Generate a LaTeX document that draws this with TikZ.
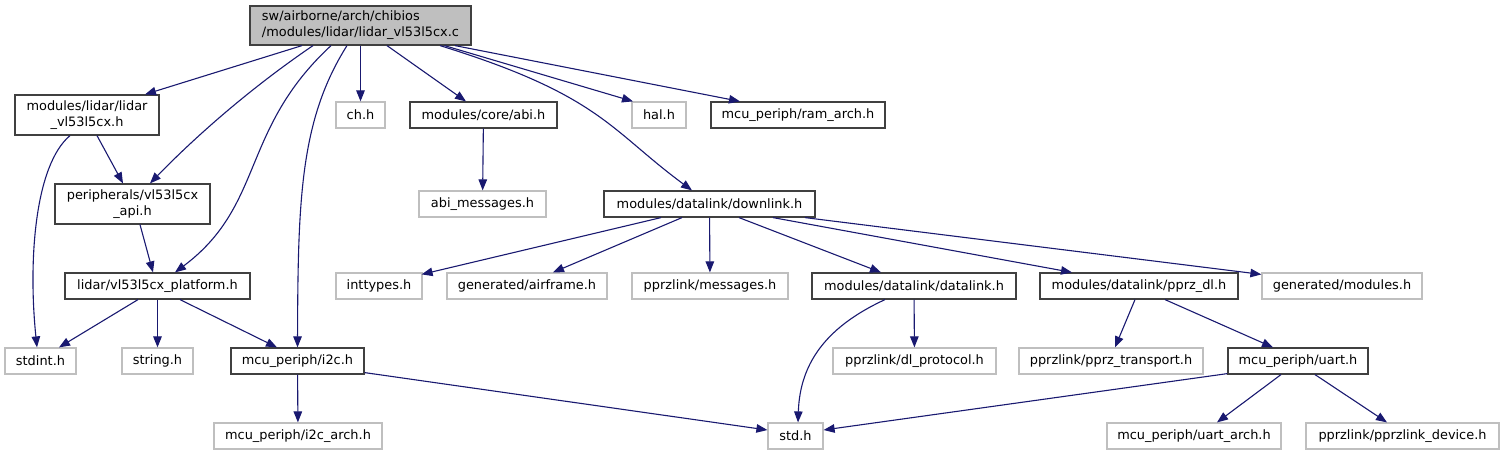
\documentclass[tikz,border=0pt]{standalone}
\usepackage{fontspec}
\setmainfont{DejaVu Sans}
\usetikzlibrary{arrows.meta}
\definecolor{edgeblue}{HTML}{191970}
\definecolor{docgray}{HTML}{404040}
\definecolor{extgray}{HTML}{BFBFBF}

\begin{document}
\begin{tikzpicture}[
        x=1pt, y=-1pt,
        base/.style={rectangle, align=center, inner sep=0pt, minimum height=26pt, line width=1.2pt, font=\fontsize{12.9}{16}\selectfont},
        box/.style={base, draw=docgray},
        ext/.style={base, draw=extgray},
        rootbox/.style={box, fill=extgray, align=left, minimum height=39pt},
        tall/.style={minimum height=40pt},
        line/.style={-{Triangle[length=11pt, width=8.5pt]}, draw=edgeblue, line width=1.1pt}
    ]
    \useasboundingbox (0,0) rectangle (1503,455);
    % top and first levels
    \node [rootbox, minimum width=221pt] (root) at (360.5,25.5) {sw/airborne/arch/chibios\\/modules/lidar/lidar\_vl53l5cx.c};
    \node [box, tall, minimum width=144pt] (lidarh) at (87,115) {modules/lidar/lidar\\\_vl53l5cx.h};
    \node [ext, minimum width=49pt] (ch) at (360.5,115) {ch.h};
    \node [box, minimum width=147pt] (abi) at (483.5,115) {modules/core/abi.h};
    \node [ext, minimum width=54pt] (hal) at (659,115) {hal.h};
    \node [box, minimum width=174pt] (ramarch) at (798,115) {mcu\_periph/ram\_arch.h};
    \node [box, tall, minimum width=155pt] (api) at (132.5,204) {peripherals/vl53l5cx\\\_api.h};
    \node [ext, minimum width=127pt] (abimsg) at (482.5,204) {abi\_messages.h};
    \node [box, minimum width=211pt] (downlink) at (709.5,204) {modules/datalink/downlink.h};
    % middle level
    \node [box, minimum width=185pt] (platform) at (157.5,286) {lidar/vl53l5cx\_platform.h};
    \node [ext, minimum width=86pt] (inttypes) at (379,286) {inttypes.h};
    \node [ext, minimum width=160pt] (airframe) at (527,286) {generated/airframe.h};
    \node [ext, minimum width=156pt] (messages) at (710,286) {pprzlink/messages.h};
    \node [box, minimum width=204pt] (datalink) at (914,286) {modules/datalink/datalink.h};
    \node [box, minimum width=198pt] (pprzdl) at (1139,286) {modules/datalink/pprz\_dl.h};
    \node [ext, minimum width=160pt] (modgen) at (1342,286) {generated/modules.h};
    % lower levels
    \node [ext, minimum width=71pt] (stdint) at (40.5,361) {stdint.h};
    \node [ext, minimum width=71pt] (string) at (157.5,361) {string.h};
    \node [box, minimum width=133pt] (i2c) at (297.5,361) {mcu\_periph/i2c.h};
    \node [ext, minimum width=163pt] (dlprot) at (914.5,361) {pprzlink/dl\_protocol.h};
    \node [ext, minimum width=184pt] (transport) at (1111,361) {pprzlink/pprz\_transport.h};
    \node [box, minimum width=140pt] (uart) at (1298,361) {mcu\_periph/uart.h};
    \node [ext, minimum width=168pt] (i2carch) at (298,436) {mcu\_periph/i2c\_arch.h};
    \node [ext, minimum width=55pt] (std) at (795.5,436) {std.h};
    \node [ext, minimum width=174pt] (uartarch) at (1194,436) {mcu\_periph/uart\_arch.h};
    \node [ext, minimum width=193pt] (device) at (1402.5,436) {pprzlink/pprzlink\_device.h};
    % edges from the source file
    \draw [line] ([xshift=-58.5pt]root.south) -- ([xshift=58pt]lidarh.north);
    \draw [line] ([xshift=-47.5pt]root.south) .. controls (255,85) and (200,132) .. ([xshift=17.5pt]api.north);
    \draw [line] ([xshift=-29.5pt]root.south) .. controls (240,130) and (265,205) .. ([xshift=17.5pt]platform.north);
    \draw [line] ([xshift=-13.5pt]root.south) .. controls (300,120) and (298,200) .. (i2c.north);
    \draw [line] (root) -- (ch);
    \draw [line] ([xshift=26.5pt]root.south) -- ([xshift=-17.5pt]abi.north);
    \draw [line] ([xshift=79.5pt]root.south) .. controls (600,95) and (610,130) .. ([xshift=-17.5pt]downlink.north);
    \draw [line] ([xshift=84pt]root.south) -- ([xshift=-26pt]hal.north);
    \draw [line] ([xshift=94.5pt]root.south) -- ([xshift=-58pt]ramarch.north);
    % left branch
    \draw [line] ([xshift=10pt]lidarh.south) -- ([xshift=-9.5pt]api.north);
    \draw [line] ([xshift=-17pt]lidarh.south) .. controls (35,165) and (28,260) .. ([xshift=-3.5pt]stdint.north);
    \draw [line] ([xshift=7.5pt]api.south) -- ([xshift=-4.5pt]platform.north);
    \draw [line] ([xshift=-19.5pt]platform.south) -- ([xshift=18.5pt]stdint.north);
    \draw [line] (platform) -- (string);
    \draw [line] ([xshift=22.5pt]platform.south) -- ([xshift=-20.5pt]i2c.north);
    \draw [line] (i2c) -- (i2carch);
    \draw [line] ([yshift=2pt]i2c.south east) -- ([yshift=6pt]std.west);
    \draw [line] (abi) -- (abimsg);
    % downlink branch
    \draw [line] ([xshift=-48.5pt]downlink.south) -- ([xshift=-1pt, yshift=-2pt]inttypes.north east);
    \draw [line] ([xshift=-27.5pt]downlink.south) -- ([xshift=26pt]airframe.north);
    \draw [line] (downlink) -- (messages);
    \draw [line] ([xshift=29.5pt]downlink.south) -- ([xshift=-33pt]datalink.north);
    \draw [line] ([xshift=63.5pt]downlink.south) -- ([xshift=-67pt]pprzdl.north);
    \draw [line] ([xshift=95.5pt]downlink.south) -- ([yshift=-2pt]modgen.north west);
    \draw [line] (datalink) -- (dlprot);
    \draw [line] ([xshift=-29pt]datalink.south) .. controls (830,325) and (800,360) .. ([xshift=2.5pt]std.north);
    \draw [line] ([xshift=-4pt]pprzdl.south) -- ([xshift=4pt]transport.north);
    \draw [line] ([xshift=26pt]pprzdl.south) -- ([xshift=-25pt]uart.north);
    \draw [line] ([yshift=1pt]uart.south west) -- ([yshift=6pt]std.east);
    \draw [line] ([xshift=-17pt]uart.south) -- ([xshift=23pt]uartarch.north);
    \draw [line] ([xshift=17pt]uart.south) -- ([xshift=-15.5pt]device.north);
  \end{tikzpicture}
\end{document}
